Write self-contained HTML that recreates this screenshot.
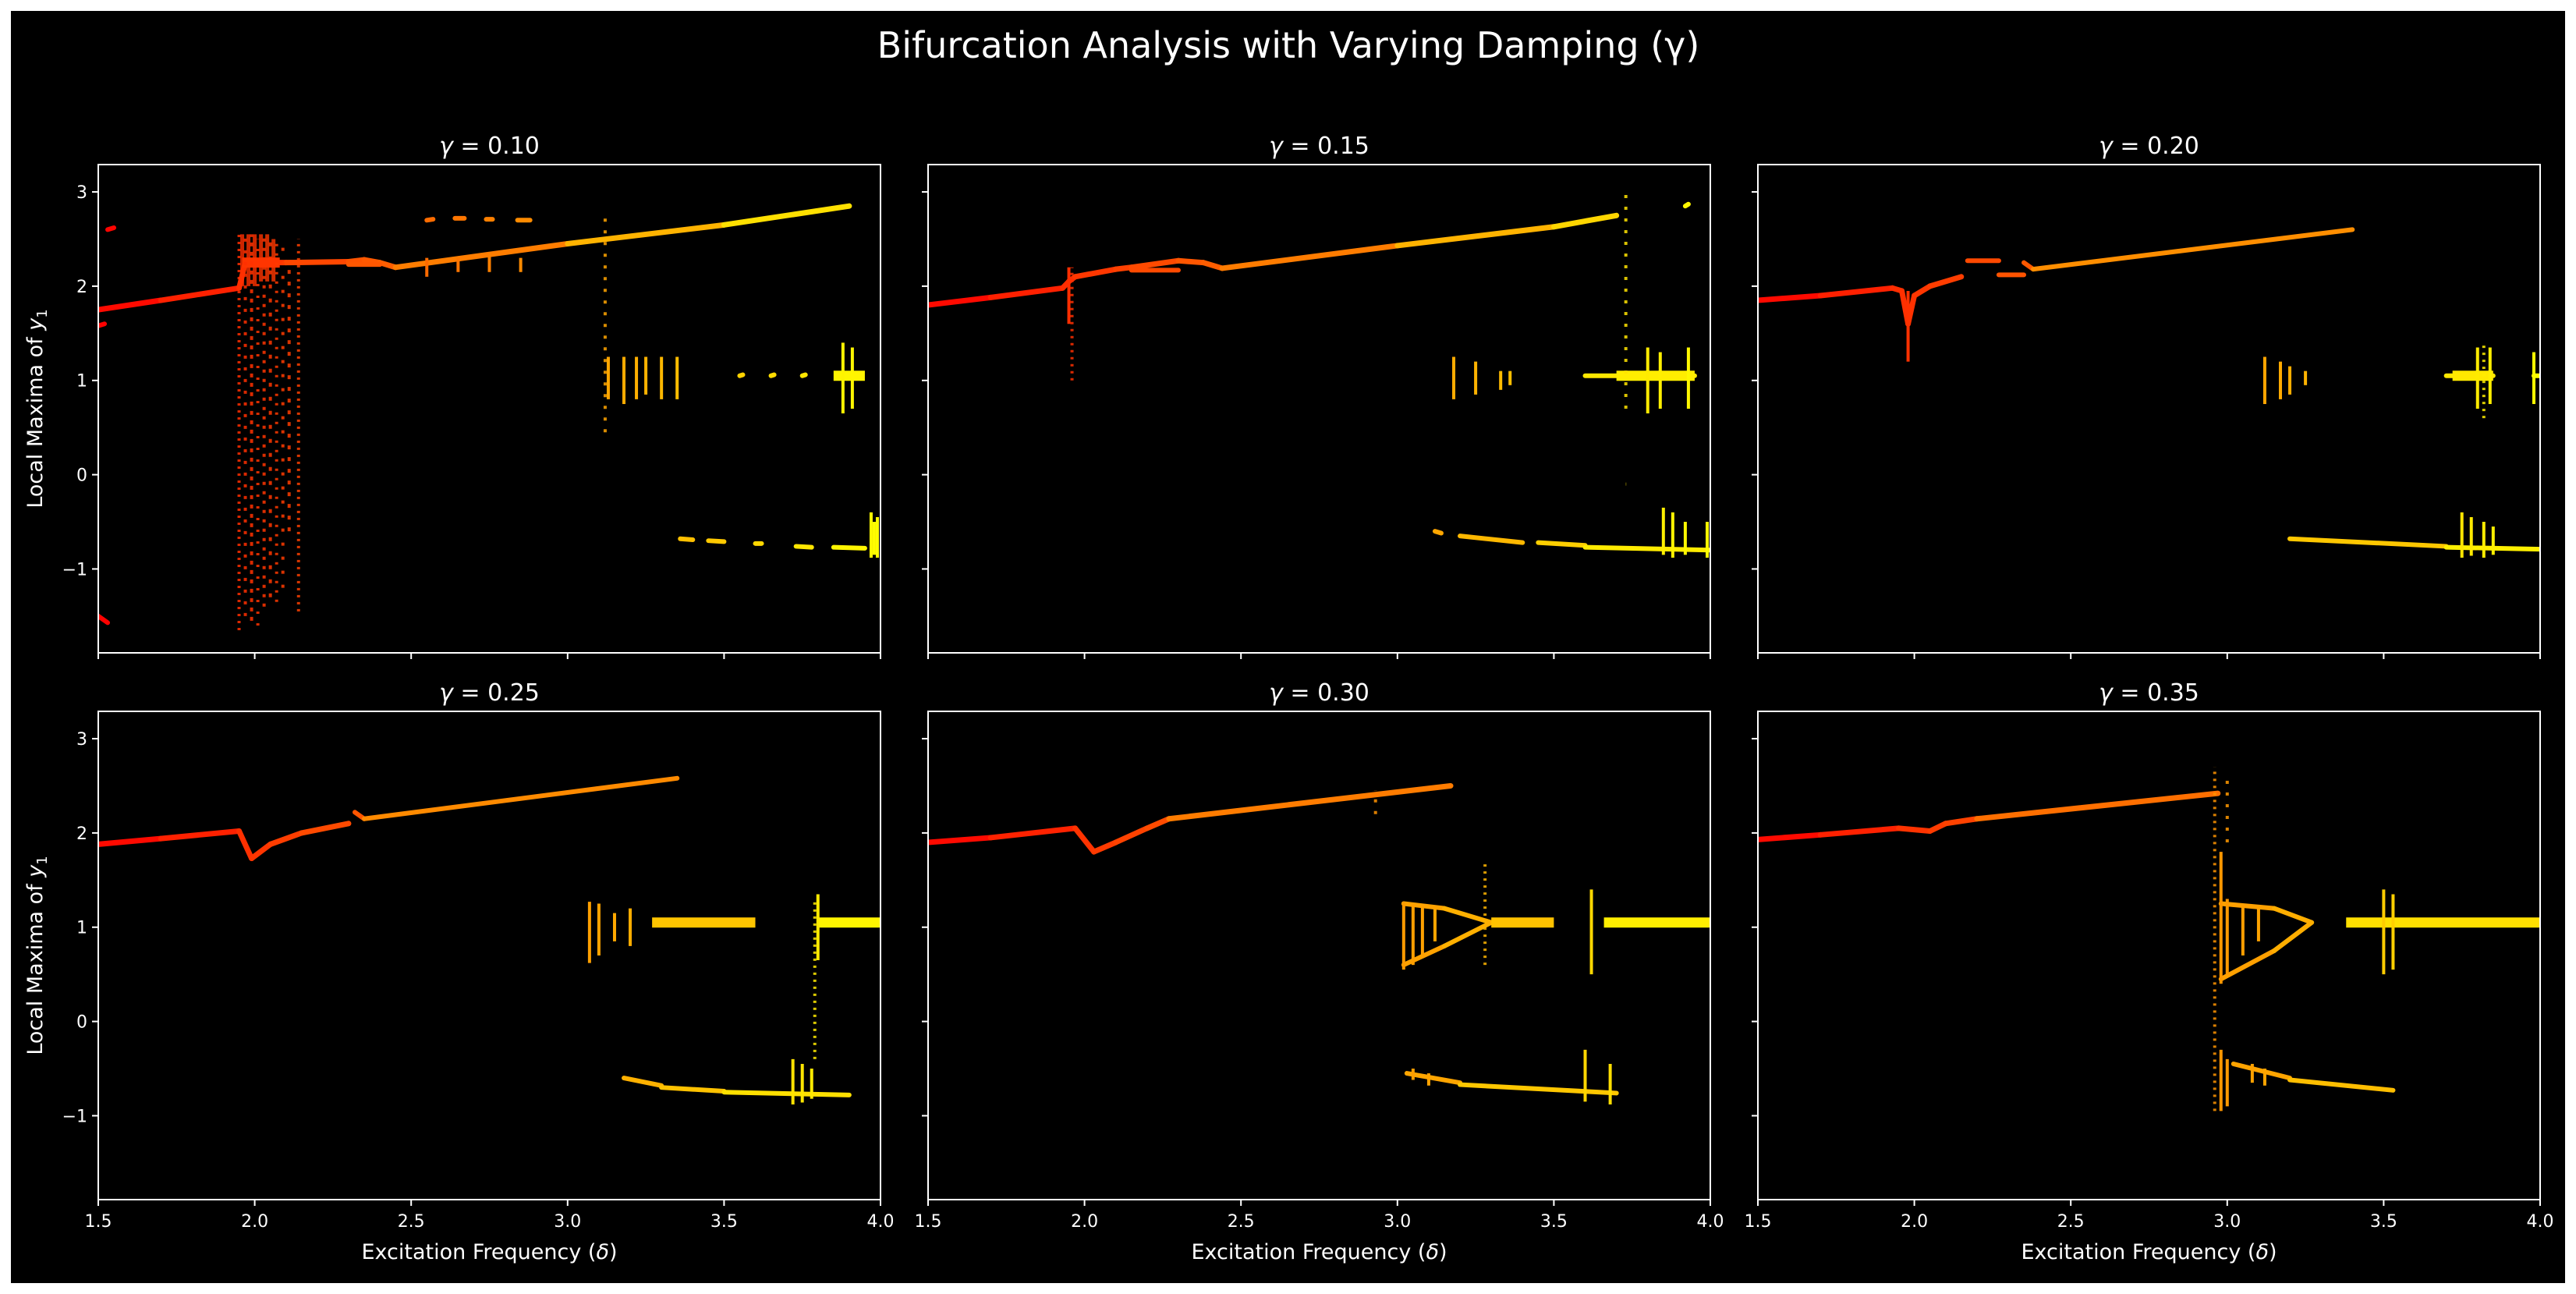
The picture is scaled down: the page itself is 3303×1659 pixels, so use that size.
<!DOCTYPE html>
<html><head><meta charset="utf-8"><style>
html,body{margin:0;padding:0;background:#fff;}
svg{display:block;}
text{font-family:"DejaVu Sans","Liberation Sans",sans-serif;fill:#fff;}
</style></head><body>
<svg id="fig" width="3303" height="1659" viewBox="0 0 3303 1659" xmlns="http://www.w3.org/2000/svg">
<rect x="14" y="14" width="3275" height="1631" fill="#000"/>
<text x="1652" y="74" font-size="46" text-anchor="middle">Bifurcation Analysis with Varying Damping (γ)</text>
<g id="panels"></g>
</svg>
<script>
const gammas=[0.10,0.15,0.20,0.25,0.30,0.35];
const xTicks=[1.5,2.0,2.5,3.0,3.5,4.0];
const xTickLabels=["1.5","2.0","2.5","3.0","3.5","4.0"];
const yTicks=[-1,0,1,2,3];
const yTickLabels=["−1","0","1","2","3"];
const xDomain=[1.5,4.0];
const yDomain=[-1.89,3.29];
const branchX=[
 [1.5,1.7,1.95,1.97,2.1,2.3,2.35,2.4,2.45,3.0,3.5,3.9],
 [1.5,1.7,1.93,1.95,1.97,2.1,2.15,2.3,2.38,2.44,3.0,3.5,3.7],
 [1.5,1.7,1.93,1.96,1.98,2.0,2.05,2.15],
 [1.5,1.7,1.95,1.99,2.05,2.15,2.3],
 [1.5,1.7,1.97,2.03,2.1,2.2,2.27,3.17],
 [1.5,1.7,1.95,2.05,2.1,2.2,2.97]
];
const branchY=[
 [1.75,1.85,1.98,2.25,2.25,2.26,2.28,2.25,2.2,2.45,2.65,2.85],
 [1.8,1.88,1.98,2.05,2.1,2.18,2.2,2.27,2.25,2.19,2.43,2.63,2.75],
 [1.85,1.9,1.98,1.95,1.6,1.9,2.0,2.1],
 [1.88,1.94,2.02,1.73,1.88,2.0,2.1],
 [1.9,1.95,2.05,1.8,1.9,2.05,2.15,2.5],
 [1.93,1.98,2.05,2.02,2.1,2.15,2.42]
];
const lines=[
 [[1.5,1.58,1.52,1.6],[1.53,2.6,1.55,2.62],[1.5,-1.5,1.53,-1.57],[2.3,2.23,2.4,2.23],[2.55,2.7,2.57,2.71],[2.64,2.72,2.67,2.72],[2.74,2.71,2.76,2.71],[2.84,2.7,2.88,2.7],[3.36,-0.68,3.4,-0.69],[3.45,-0.7,3.5,-0.71],[3.6,-0.73,3.62,-0.73],[3.73,-0.76,3.78,-0.77],[3.85,-0.77,3.95,-0.78],[3.55,1.05,3.56,1.06],[3.65,1.05,3.66,1.06],[3.75,1.05,3.76,1.06]],
 [[2.15,2.17,2.3,2.17],[3.92,2.85,3.93,2.87],[3.12,-0.6,3.14,-0.62],[3.2,-0.65,3.4,-0.72],[3.45,-0.72,3.6,-0.75],[3.6,-0.77,4.0,-0.8],[3.6,1.05,3.95,1.05]],
 [[2.17,2.27,2.27,2.27],[2.27,2.12,2.35,2.12],[2.35,2.25,2.38,2.18],[2.38,2.18,3.4,2.6],[3.2,-0.68,3.7,-0.76],[3.7,-0.77,4.0,-0.79],[3.7,1.05,3.85,1.05],[3.98,1.05,4.0,1.05]],
 [[2.32,2.22,2.35,2.15],[2.35,2.15,3.35,2.58],[3.18,-0.6,3.3,-0.68],[3.3,-0.7,3.5,-0.74],[3.5,-0.75,3.9,-0.78]],
 [[3.02,1.25,3.15,1.2],[3.15,1.2,3.3,1.05],[3.02,0.6,3.15,0.8],[3.15,0.8,3.3,1.05],[3.03,-0.55,3.2,-0.65],[3.2,-0.67,3.7,-0.76]],
 [[2.98,1.25,3.15,1.2],[3.15,1.2,3.27,1.05],[2.98,0.45,3.15,0.75],[3.15,0.75,3.27,1.05],[3.02,-0.45,3.2,-0.6],[3.2,-0.62,3.53,-0.73]]
];
const bands=[
 [[1.96,2.08,2.25],[3.85,3.95,1.05]],
 [[3.7,3.95,1.05]],
 [[3.72,3.85,1.05]],
 [[3.27,3.6,1.05],[3.8,4.0,1.05]],
 [[3.3,3.5,1.05],[3.66,4.0,1.05]],
 [[3.38,4.0,1.05]]
];
const strips=[
 [[2.55,2.1,2.3],[2.65,2.15,2.3],[2.75,2.15,2.35],[2.85,2.15,2.3],[3.13,0.8,1.25],[3.18,0.75,1.25],[3.22,0.8,1.25],[3.25,0.85,1.25],[3.3,0.8,1.25],[3.35,0.8,1.25],[3.88,0.65,1.4],[3.91,0.7,1.35],[3.97,-0.4,-0.88],[3.99,-0.45,-0.88],[3.98,-0.5,-0.85]],
 [[1.95,1.6,2.2],[3.18,0.8,1.25],[3.25,0.85,1.2],[3.33,0.9,1.1],[3.36,0.95,1.1],[3.8,0.65,1.35],[3.84,0.7,1.3],[3.93,0.7,1.35],[3.85,-0.35,-0.85],[3.88,-0.4,-0.88],[3.92,-0.5,-0.85],[3.99,-0.5,-0.88]],
 [[1.98,1.2,1.95],[3.12,0.75,1.25],[3.17,0.8,1.2],[3.2,0.85,1.15],[3.25,0.95,1.1],[3.8,0.7,1.35],[3.84,0.75,1.35],[3.98,0.75,1.3],[3.75,-0.4,-0.88],[3.78,-0.45,-0.86],[3.82,-0.5,-0.88],[3.85,-0.55,-0.85]],
 [[3.07,0.62,1.27],[3.1,0.7,1.25],[3.15,0.85,1.15],[3.2,0.8,1.2],[3.8,0.65,1.35],[3.72,-0.4,-0.88],[3.75,-0.45,-0.86],[3.78,-0.5,-0.82]],
 [[3.02,0.55,1.27],[3.05,0.6,1.25],[3.08,0.7,1.22],[3.12,0.85,1.2],[3.62,0.5,1.4],[3.6,-0.3,-0.85],[3.68,-0.45,-0.88],[3.05,-0.5,-0.62],[3.1,-0.55,-0.68]],
 [[2.98,0.4,1.8],[3.0,0.5,1.3],[3.05,0.7,1.25],[3.1,0.85,1.2],[3.5,0.5,1.4],[3.53,0.55,1.35],[2.98,-0.3,-0.95],[3.0,-0.4,-0.9],[3.08,-0.45,-0.65],[3.12,-0.5,-0.68]]
];
const cloudStrips=[
 [[1.96,2.0,2.55],[1.98,2.0,2.55],[2.0,2.0,2.55],[2.02,2.05,2.55],[2.04,2.05,2.55],[2.06,2.05,2.5]],
 [],[],[],[],[]
];
const dotStrips=[
 [[1.95,-1.65,2.55],[1.97,-1.5,2.55],[1.99,-1.55,2.55],[2.01,-1.6,2.5],[2.03,-1.4,2.55],[2.05,-1.3,2.55],[2.07,-1.35,2.5],[2.09,-1.2,2.45],[2.11,-0.6,2.2],[2.14,-1.45,2.5],[3.12,0.45,2.8]],
 [[1.96,1.0,2.2],[3.73,0.7,3.05],[3.73,-0.1,-0.1]],
 [[3.82,0.6,1.4]],
 [[3.79,-0.4,1.3]],
 [[3.28,0.6,1.7],[2.93,2.2,2.45]],
 [[2.96,-0.95,2.7],[3.0,1.9,2.6]]
];
const cols=[126,1190,2254], rows=[211,912], W=1003, H=626;
const NS="http://www.w3.org/2000/svg";
const root=document.getElementById('panels');
function el(tag,attrs,parent){const e=document.createElementNS(NS,tag);for(const k in attrs)e.setAttribute(k,attrs[k]);parent.appendChild(e);return e;}
function col(x){const t=Math.max(0,Math.min(1,(x-1.5)/2.5));return 'rgb(255,'+Math.round(255*t)+',0)';}
gammas.forEach((g,i)=>{
  const L=cols[i%3], T=rows[Math.floor(i/3)];
  const sx=x=>L+(x-xDomain[0])/(xDomain[1]-xDomain[0])*W;
  const sy=y=>T+(yDomain[1]-y)/(yDomain[1]-yDomain[0])*H;
  const gp=el('g',{},root);
  
  
  const clip=el('clipPath',{id:'c'+i},gp);el('rect',{x:L,y:T,width:W,height:H},clip);
  const data=el('g',{'clip-path':'url(#c'+i+')'},gp);
  
  
  cloudStrips[i].forEach(d=>{
    const s=el('line',{x1:sx(d[0]),y1:sy(d[1]),x2:sx(d[0]),y2:sy(d[2]),stroke:col(d[0]),'stroke-width':5,'opacity':0.8},data);
    
    
  });
  const bx=branchX[i], by=branchY[i];
  for(let k=0;k<bx.length-1;k++){
    const s=el('line',{x1:sx(bx[k]),y1:sy(by[k]),x2:sx(bx[k+1]),y2:sy(by[k+1]),stroke:col((bx[k]+bx[k+1])/2),'stroke-width':7,'stroke-linecap':'round'},data);
    
    
  }
  lines[i].forEach(d=>{
    const s=el('line',{x1:sx(d[0]),y1:sy(d[1]),x2:sx(d[2]),y2:sy(d[3]),stroke:col((d[0]+d[2])/2),'stroke-width':6,'stroke-linecap':'round'},data);
    
    
  });
  bands[i].forEach(d=>{
    const s=el('line',{x1:sx(d[0]),y1:sy(d[2]),x2:sx(d[1]),y2:sy(d[2]),stroke:col((d[0]+d[1])/2),'stroke-width':13},data);
    
    
  });
  strips[i].forEach(d=>{
    const s=el('line',{x1:sx(d[0]),y1:sy(d[1]),x2:sx(d[0]),y2:sy(d[2]),stroke:col(d[0]),'stroke-width':4},data);
    
    
  });
  dotStrips[i].forEach((d,k)=>{
    const s=el('line',{x1:sx(d[0]),y1:sy(d[1]),x2:sx(d[0]),y2:sy(d[2]),stroke:col(d[0]),'stroke-width':4,'stroke-dasharray':(3+k%3)+' '+(6+(k*5)%9),'opacity':0.85},data);
    
    
  });
  const fr=el('rect',{x:L,y:T,width:W,height:H,fill:'none',stroke:'#fff','stroke-width':2},gp);
  
  
  const bottomRow=i>=3, leftCol=i%3===0;
  xTicks.forEach((t,k)=>{
    el('line',{x1:sx(t),y1:T+H,x2:sx(t),y2:T+H+8,stroke:'#fff','stroke-width':2},gp);
    if(bottomRow){const tx=el('text',{x:sx(t),y:T+H+35,'font-size':22,'text-anchor':'middle'},gp);tx.textContent=xTickLabels[k];
      
      }
  });
  yTicks.forEach((t,k)=>{
    el('line',{x1:L-8,y1:sy(t),x2:L,y2:sy(t),stroke:'#fff','stroke-width':2},gp);
    if(leftCol){const tx=el('text',{x:L-14,y:sy(t)+8,'font-size':22,'text-anchor':'end'},gp);tx.textContent=yTickLabels[k];
      
      }
  });
  const ti=el('text',{x:L+W/2,y:T-14,'font-size':30,'text-anchor':'middle'},gp);
  ti.innerHTML='<tspan font-style="italic">γ</tspan> = '+g.toFixed(2);
  
  
  if(bottomRow){const xl=el('text',{x:L+W/2,y:T+H+76,'font-size':27,'text-anchor':'middle'},gp);
    xl.innerHTML='Excitation Frequency (<tspan font-style="italic">δ</tspan>)';
    
    }
  if(leftCol){const cy=T+H/2;const yl=el('text',{x:54,y:cy,'font-size':27,'text-anchor':'middle',transform:'rotate(-90 54 '+cy+')'},gp);
    yl.innerHTML='Local Maxima of <tspan font-style="italic">y</tspan><tspan font-size="18" dy="6">1</tspan>';
    
    }
});
</script>
</body></html>
